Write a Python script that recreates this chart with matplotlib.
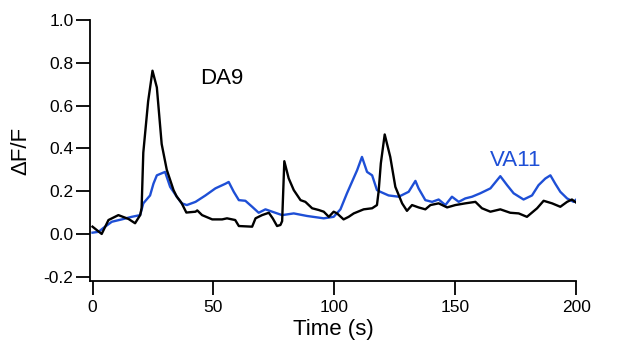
import matplotlib
matplotlib.use("Agg")
import matplotlib.pyplot as plt

plt.rcParams['font.family'] = ['Liberation Sans', 'DejaVu Sans']

# DA9 trace (black), time in s and dF/F
t_da9 = [0, 3.8, 6.6, 10.7, 14.9, 17.6, 19.7, 20.3, 21, 23, 24.8, 26.6, 28.6, 30.7,
         33.5, 34.8, 36.8, 38.8, 42.6, 43.3, 45.3, 49.5, 53.6, 55.6, 59, 60.5, 66,
         67.4, 70.1, 72.9, 74.5, 76.3, 77.7, 78.4, 79.3, 81.1, 83.2, 86, 88, 90.8,
         93.5, 95.6, 97.7, 99.7, 101.1, 103.8, 105.9, 108, 112.1, 115.6, 117.6,
         118.3, 119.2, 120.8, 123.1, 125.2, 128, 130, 132.1, 134.8, 137.6, 139.7,
         143.1, 146.6, 150, 154.1, 158.3, 161, 164.5, 168.6, 172.7, 176.2, 179.6,
         183.8, 186.5, 190, 193.4, 196.2, 198.2, 200]
v_da9 = [0.034, 0.0, 0.065, 0.088, 0.07, 0.05, 0.088, 0.12, 0.38, 0.62, 0.763, 0.685,
         0.42, 0.30, 0.205, 0.175, 0.145, 0.10, 0.104, 0.11, 0.088, 0.068, 0.068,
         0.073, 0.065, 0.037, 0.034, 0.073, 0.088, 0.099, 0.073, 0.037, 0.042, 0.06,
         0.34, 0.26, 0.205, 0.158, 0.15, 0.12, 0.112, 0.104, 0.08, 0.104, 0.096,
         0.068, 0.08, 0.096, 0.115, 0.12, 0.135, 0.20, 0.33, 0.465, 0.36, 0.22,
         0.143, 0.108, 0.135, 0.124, 0.115, 0.135, 0.143, 0.124, 0.135, 0.143, 0.15,
         0.12, 0.104, 0.115, 0.099, 0.096, 0.08, 0.12, 0.155, 0.143, 0.127, 0.15,
         0.161, 0.146]

# VA11 trace (blue)
t_va11 = [0, 2.5, 4.5, 8, 12.1, 16.2, 19.7, 21, 23.8, 25.2, 26.6, 30, 32.1, 34.8,
          36.9, 39, 42.6, 46.7, 50.8, 55, 56.3, 58.4, 60.5, 63.2, 66, 68.7, 71.5,
          74.3, 78.4, 83.2, 88.7, 95.6, 99.7, 102.5, 105.2, 109.4, 111.4, 113.5,
          115.6, 117.6, 119, 122.4, 126.6, 130.7, 133.5, 134.8, 137.6, 140.4, 143.1,
          145.9, 148.6, 151.4, 154.1, 156.9, 160.3, 164.5, 168.6, 171.4, 174.1,
          178.2, 181.7, 184.4, 187.2, 189.3, 191.3, 193.4, 196.2, 198.9, 200]
v_va11 = [0.006, 0.01, 0.028, 0.057, 0.068, 0.08, 0.088, 0.143, 0.18, 0.235, 0.274,
          0.29, 0.22, 0.175, 0.143, 0.135, 0.15, 0.18, 0.213, 0.235, 0.243, 0.197,
          0.158, 0.155, 0.127, 0.099, 0.115, 0.104, 0.088, 0.096, 0.084, 0.073,
          0.08, 0.115, 0.19, 0.298, 0.36, 0.29, 0.274, 0.205, 0.197, 0.18, 0.174,
          0.197, 0.248, 0.213, 0.158, 0.15, 0.161, 0.135, 0.174, 0.15, 0.166, 0.174,
          0.19, 0.213, 0.27, 0.228, 0.19, 0.161, 0.18, 0.228, 0.259, 0.274, 0.235,
          0.197, 0.166, 0.15, 0.161]

blue = '#1e4fd6'

fig = plt.figure(figsize=(6.17, 3.48), dpi=100)
ax = fig.add_axes([0.146, 0.1925, 0.788, 0.75])

ax.plot(t_va11, v_va11, color=blue, lw=1.7)
ax.plot(t_da9, v_da9, color='black', lw=1.7)

ax.text(53.3, 0.726, "DA9", fontsize=16, color='black', ha='center', va='center')
ax.text(175, 0.344, "VA11", fontsize=16, color=blue, ha='center', va='center')

ax.set_xlim(-1, 200)
ax.set_ylim(-0.22, 1.0)
ax.set_xticks([0, 50, 100, 150, 200])
ax.set_yticks([-0.2, 0.0, 0.2, 0.4, 0.6, 0.8, 1.0])
ax.set_yticklabels(['-0.2', '0.0', '0.2', '0.4', '0.6', '0.8', '1.0'])

for s in ['top', 'right']:
    ax.spines[s].set_visible(False)
ax.spines['left'].set_bounds(-0.22, 1.0)
ax.spines['bottom'].set_bounds(-1, 200)
ax.spines['left'].set_linewidth(1.3)
ax.spines['bottom'].set_linewidth(1.3)
ax.tick_params(direction='out', length=10, width=1.3, labelsize=12.5)
ax.tick_params(axis='y', pad=2)

ax.set_xlabel("Time (s)", fontsize=16, labelpad=3)
ax.set_ylabel("ΔF/F", fontsize=16, labelpad=9)

fig.savefig("out.png", dpi=100)
